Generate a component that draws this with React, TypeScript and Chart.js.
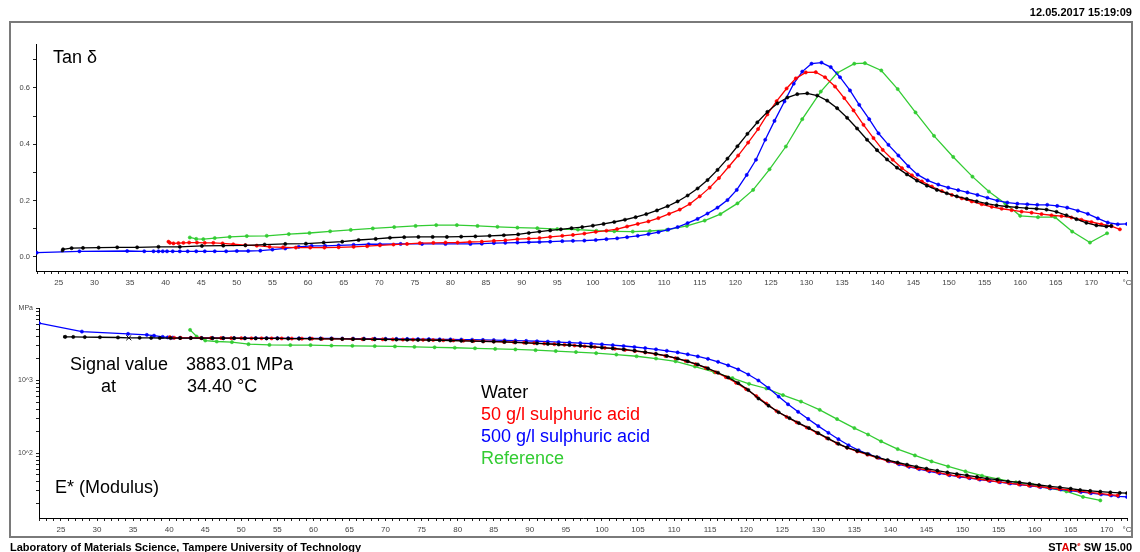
import React, { useEffect, useRef } from 'react';
import { Chart, registerables } from 'chart.js';

Chart.register(...registerables);

const FONT = "'Liberation Sans', Arial, Helvetica, sans-serif";

// ---------- Tan delta (top panel) ----------
const tanWaterT = [25.5, 25.6, 26.8, 28.4, 30.6, 33.2, 36.0, 39.0, 42.0, 45.1, 48.1, 51.2, 53.9, 56.8, 59.7, 62.2, 64.8, 67.1, 69.5, 71.5, 73.5, 75.5, 77.5, 79.5, 81.5, 83.5, 85.5, 87.5, 89.5, 91.0, 92.5, 94.0, 95.5, 97.0, 98.5, 100.0, 101.5, 103.0, 104.5, 106.0, 107.5, 109.0, 110.5, 111.9, 113.3, 114.7, 116.1, 117.5, 118.9, 120.3, 121.7, 123.1, 124.5, 125.9, 127.3, 128.7, 130.1, 131.5, 132.9, 134.3, 135.7, 137.1, 138.5, 139.9, 141.3, 142.7, 144.1, 145.5, 146.9, 148.3, 149.7, 151.1, 152.5, 153.9, 155.3, 156.7, 158.1, 159.5, 160.9, 162.3, 163.7, 165.1, 166.5, 167.9, 169.3, 170.7, 172.1, 172.8];
const tanWaterV = [0.022, 0.027, 0.031, 0.032, 0.033, 0.034, 0.034, 0.036, 0.036, 0.039, 0.040, 0.041, 0.044, 0.046, 0.047, 0.051, 0.054, 0.060, 0.064, 0.068, 0.070, 0.071, 0.071, 0.071, 0.072, 0.073, 0.075, 0.077, 0.080, 0.085, 0.090, 0.094, 0.098, 0.102, 0.106, 0.111, 0.117, 0.124, 0.132, 0.141, 0.152, 0.165, 0.180, 0.197, 0.218, 0.243, 0.273, 0.309, 0.349, 0.393, 0.437, 0.478, 0.515, 0.545, 0.566, 0.578, 0.581, 0.573, 0.555, 0.528, 0.494, 0.456, 0.416, 0.379, 0.346, 0.317, 0.293, 0.271, 0.253, 0.238, 0.226, 0.215, 0.206, 0.197, 0.189, 0.183, 0.179, 0.176, 0.173, 0.171, 0.168, 0.160, 0.148, 0.134, 0.121, 0.112, 0.108, 0.110];

const tanAcid50T = [40.4, 40.6, 41.1, 41.8, 42.5, 43.3, 44.4, 45.5, 46.7, 48.0, 49.5, 51.2, 52.8, 54.6, 56.5, 58.3, 60.3, 62.3, 64.3, 66.4, 68.3, 70.1, 72.0, 73.9, 75.7, 77.6, 79.3, 81.0, 82.7, 84.4, 86.1, 87.7, 89.4, 91.0, 92.5, 94.0, 95.7, 97.2, 98.8, 100.4, 101.9, 103.4, 104.8, 106.3, 107.8, 109.2, 110.7, 112.2, 113.6, 115.0, 116.4, 117.7, 119.1, 120.4, 121.8, 123.2, 124.5, 125.8, 127.2, 128.5, 129.9, 131.3, 132.6, 134.0, 135.3, 136.6, 138.0, 139.4, 140.7, 142.1, 143.4, 144.8, 146.2, 147.6, 149.0, 150.4, 151.8, 153.2, 154.6, 156.0, 157.4, 158.8, 160.2, 161.6, 163.0, 164.4, 165.8, 167.2, 168.6, 170.0, 171.4, 172.8, 174.0];
const tanAcid50V = [0.054, 0.050, 0.048, 0.049, 0.050, 0.051, 0.051, 0.050, 0.050, 0.048, 0.045, 0.042, 0.040, 0.036, 0.034, 0.033, 0.033, 0.033, 0.034, 0.036, 0.038, 0.041, 0.044, 0.046, 0.049, 0.050, 0.051, 0.051, 0.053, 0.054, 0.057, 0.059, 0.063, 0.065, 0.067, 0.071, 0.075, 0.078, 0.083, 0.089, 0.093, 0.099, 0.108, 0.117, 0.126, 0.138, 0.153, 0.168, 0.188, 0.215, 0.246, 0.280, 0.321, 0.360, 0.406, 0.454, 0.506, 0.553, 0.598, 0.634, 0.655, 0.656, 0.638, 0.605, 0.564, 0.520, 0.469, 0.422, 0.380, 0.345, 0.315, 0.290, 0.268, 0.250, 0.234, 0.220, 0.208, 0.197, 0.187, 0.178, 0.171, 0.166, 0.161, 0.157, 0.152, 0.148, 0.145, 0.140, 0.132, 0.124, 0.116, 0.109, 0.098];

const tanAcid500T = [21.9, 27.9, 34.6, 37.0, 38.3, 39.0, 39.6, 40.2, 41.0, 42.0, 43.1, 44.3, 45.5, 46.9, 48.5, 50.0, 51.6, 53.3, 55.0, 56.8, 58.7, 60.5, 62.4, 64.3, 66.4, 68.5, 70.1, 73.0, 76.0, 79.3, 82.8, 84.4, 86.1, 87.7, 89.4, 91.0, 92.5, 94.0, 95.7, 97.2, 98.8, 100.4, 101.9, 103.4, 104.8, 106.3, 107.8, 109.2, 110.6, 111.9, 113.3, 114.7, 116.1, 117.5, 118.9, 120.2, 121.6, 122.9, 124.2, 125.5, 126.9, 128.2, 129.4, 130.7, 132.1, 133.4, 134.7, 136.1, 137.4, 138.8, 140.1, 141.5, 142.9, 144.3, 145.6, 147.0, 148.5, 149.9, 151.3, 152.6, 154.0, 155.4, 156.8, 158.2, 159.6, 161.0, 162.4, 163.8, 165.2, 166.6, 168.1, 169.5, 170.9, 172.3, 173.7, 175.0];
const tanAcid500V = [0.015, 0.020, 0.021, 0.020, 0.020, 0.020, 0.020, 0.020, 0.020, 0.020, 0.020, 0.020, 0.020, 0.020, 0.020, 0.021, 0.021, 0.022, 0.026, 0.030, 0.036, 0.039, 0.039, 0.041, 0.043, 0.045, 0.045, 0.046, 0.046, 0.046, 0.046, 0.047, 0.049, 0.050, 0.051, 0.052, 0.053, 0.054, 0.056, 0.057, 0.058, 0.060, 0.063, 0.066, 0.070, 0.075, 0.081, 0.088, 0.097, 0.106, 0.120, 0.135, 0.154, 0.175, 0.202, 0.238, 0.291, 0.345, 0.416, 0.483, 0.552, 0.615, 0.658, 0.686, 0.690, 0.674, 0.638, 0.591, 0.540, 0.489, 0.439, 0.398, 0.360, 0.322, 0.292, 0.272, 0.257, 0.246, 0.237, 0.229, 0.220, 0.210, 0.200, 0.193, 0.189, 0.187, 0.185, 0.185, 0.181, 0.175, 0.164, 0.153, 0.137, 0.122, 0.116, 0.117];

const tanRefT = [43.4, 44.3, 45.3, 46.9, 49.0, 51.4, 54.2, 57.3, 60.2, 63.1, 66.0, 69.1, 72.1, 75.1, 78.0, 80.9, 83.8, 86.6, 89.4, 92.2, 95.0, 97.9, 100.5, 103.0, 105.6, 108.0, 110.4, 113.2, 115.7, 117.9, 120.3, 122.5, 124.8, 127.1, 129.4, 132.0, 134.3, 136.7, 138.2, 140.5, 142.8, 145.3, 147.9, 150.6, 153.3, 155.6, 157.9, 160.0, 162.5, 164.9, 167.3, 169.8, 172.2];
const tanRefV = [0.069, 0.064, 0.063, 0.067, 0.071, 0.074, 0.075, 0.081, 0.085, 0.091, 0.096, 0.101, 0.106, 0.110, 0.113, 0.113, 0.110, 0.107, 0.104, 0.102, 0.099, 0.097, 0.093, 0.091, 0.090, 0.092, 0.096, 0.110, 0.129, 0.152, 0.190, 0.238, 0.311, 0.392, 0.489, 0.587, 0.653, 0.686, 0.688, 0.662, 0.596, 0.513, 0.430, 0.355, 0.285, 0.232, 0.190, 0.146, 0.141, 0.141, 0.090, 0.051, 0.084];

// ---------- E* modulus, MPa (bottom panel) ----------
const modWaterT = [25.5, 25.6, 26.7, 28.3, 30.4, 32.9, 34.4, 35.9, 37.5, 38.7, 40.2, 41.5, 43.0, 44.5, 46.0, 47.5, 49.0, 50.5, 52.0, 53.5, 55.0, 56.5, 58.0, 59.5, 61.0, 62.5, 64.0, 65.5, 67.0, 68.5, 70.0, 71.5, 73.0, 74.5, 76.0, 77.5, 79.0, 80.5, 82.0, 83.5, 85.0, 86.5, 88.0, 89.5, 91.0, 92.5, 94.0, 95.5, 97.0, 98.5, 100.0, 101.5, 103.0, 104.5, 106.0, 107.5, 109.0, 110.5, 111.9, 113.3, 114.7, 116.1, 117.5, 118.9, 120.3, 121.7, 123.1, 124.5, 126.0, 127.3, 128.7, 130.0, 131.4, 132.8, 134.0, 135.4, 136.8, 138.1, 139.6, 141.0, 142.3, 143.6, 145.0, 146.5, 147.9, 149.2, 150.6, 152.0, 153.4, 154.8, 156.3, 157.9, 159.3, 160.6, 162.1, 163.5, 165.0, 166.3, 167.7, 169.1, 170.5, 171.8, 172.8];
const modWaterV = [4000, 4000, 3990, 3970, 3950, 3920, 3883, 3880, 3870, 3860, 3850, 3850, 3850, 3840, 3840, 3830, 3830, 3820, 3810, 3810, 3800, 3790, 3780, 3770, 3760, 3750, 3740, 3730, 3720, 3700, 3690, 3670, 3650, 3630, 3610, 3590, 3560, 3530, 3500, 3470, 3440, 3400, 3360, 3310, 3260, 3200, 3140, 3080, 3010, 2930, 2850, 2770, 2680, 2580, 2460, 2330, 2180, 2010, 1840, 1660, 1470, 1280, 1100, 920, 740, 565, 450, 365, 303, 259, 221, 188, 158, 134, 119, 107, 97, 88, 80, 74, 69, 64.7, 60.8, 57, 54, 51.4, 49.3, 46.8, 44.3, 42.9, 40.6, 39.4, 37.8, 36.2, 34.7, 33.6, 32.2, 30.9, 30.0, 29.3, 28.7, 28.2, 27.9];

const modAcid50T = [40.1, 40.7, 41.6, 43.0, 44.4, 45.8, 47.2, 48.6, 50.0, 51.4, 52.8, 54.2, 55.6, 57.0, 58.4, 59.8, 61.2, 62.6, 64.0, 65.4, 66.8, 68.2, 69.6, 71.0, 72.4, 73.8, 75.2, 76.6, 78.0, 79.4, 80.8, 82.2, 83.6, 85.0, 86.4, 87.8, 89.2, 90.6, 92.0, 93.4, 94.8, 96.2, 97.6, 99.0, 100.4, 101.8, 103.2, 104.6, 106.0, 107.4, 108.8, 110.2, 111.6, 113.0, 114.4, 115.8, 117.2, 118.6, 120.0, 121.4, 122.8, 124.2, 125.6, 127.0, 128.4, 129.8, 131.2, 132.6, 134.0, 135.4, 136.8, 138.2, 139.6, 141.0, 142.4, 143.8, 145.2, 146.6, 148.0, 149.4, 150.8, 152.2, 153.6, 155.0, 156.4, 157.8, 159.2, 160.6, 162.0, 163.4, 164.8, 166.2, 167.6, 169.0, 170.4, 171.5];
const modAcid50V = [3960, 3880, 3870, 3870, 3860, 3850, 3850, 3840, 3830, 3820, 3820, 3810, 3800, 3790, 3780, 3770, 3760, 3750, 3740, 3730, 3720, 3710, 3700, 3690, 3670, 3660, 3640, 3620, 3590, 3570, 3540, 3510, 3480, 3450, 3410, 3370, 3330, 3280, 3230, 3170, 3110, 3040, 2970, 2900, 2820, 2740, 2650, 2550, 2440, 2320, 2180, 2030, 1860, 1680, 1490, 1300, 1110, 930, 760, 610, 480, 380, 315, 265, 225, 190, 160, 136, 118, 105, 95, 86, 78, 72, 66, 61.5, 57.5, 54, 50.5, 48, 45.8, 43.8, 41.8, 40.0, 38.5, 37.0, 35.6, 34.4, 33.2, 32.0, 30.9, 29.8, 28.7, 27.7, 26.7, 26.0];

const modAcid500T = [21.95, 27.9, 34.3, 36.9, 37.9, 39.1, 39.8, 40.5, 41.5, 43.0, 44.5, 46.0, 47.5, 49.0, 50.5, 52.0, 53.5, 55.0, 56.5, 58.0, 59.5, 61.0, 62.5, 64.0, 65.5, 67.0, 68.5, 70.0, 71.5, 73.0, 74.5, 76.0, 77.5, 79.0, 80.5, 82.0, 83.5, 85.0, 86.5, 88.0, 89.5, 91.0, 92.5, 94.0, 95.5, 97.0, 98.5, 100.0, 101.5, 103.0, 104.5, 106.0, 107.5, 109.0, 110.5, 111.9, 113.3, 114.7, 116.1, 117.5, 118.9, 120.3, 121.7, 123.1, 124.5, 125.8, 127.2, 128.6, 130.0, 131.4, 132.8, 134.2, 135.6, 137.0, 138.4, 139.8, 141.2, 142.6, 144.0, 145.4, 146.8, 148.2, 149.6, 151.0, 152.4, 153.8, 155.2, 156.6, 158.0, 159.4, 160.8, 162.2, 163.6, 165.0, 166.4, 167.8, 169.2, 170.6, 171.6, 172.8];
const modAcid500V = [6170, 4730, 4400, 4260, 4150, 4000, 3930, 3900, 3880, 3870, 3860, 3860, 3850, 3850, 3840, 3840, 3830, 3830, 3820, 3820, 3810, 3800, 3800, 3790, 3780, 3780, 3770, 3760, 3750, 3740, 3730, 3720, 3700, 3690, 3670, 3650, 3630, 3610, 3580, 3550, 3520, 3480, 3440, 3390, 3340, 3280, 3220, 3150, 3070, 2990, 2900, 2800, 2690, 2570, 2440, 2300, 2150, 1990, 1810, 1620, 1420, 1210, 1000, 790, 600, 470, 370, 295, 235, 190, 155, 128, 109, 96, 86, 77, 70, 64.5, 60, 56, 52.5, 49.5, 47, 45, 43, 41.2, 39.6, 38.0, 36.6, 35.2, 33.9, 32.6, 31.4, 30.2, 29.0, 27.9, 26.9, 26.0, 25.3, 24.8];

const modRefT = [42.9, 43.8, 45.0, 46.6, 48.7, 51.0, 53.9, 56.8, 59.6, 62.5, 65.4, 68.5, 71.3, 74.0, 76.8, 79.6, 82.4, 85.2, 88.0, 90.8, 93.6, 96.4, 99.2, 102.0, 104.8, 107.5, 110.2, 112.9, 115.6, 118.1, 120.4, 122.8, 125.1, 127.6, 130.2, 132.6, 135.0, 136.9, 138.7, 141.0, 143.4, 145.7, 148.0, 150.4, 152.7, 155.0, 157.4, 159.7, 162.1, 164.4, 166.7, 169.1];
const modRefV = [4990, 4040, 3560, 3450, 3380, 3170, 3100, 3080, 3080, 3030, 3010, 2980, 2950, 2910, 2870, 2830, 2780, 2730, 2680, 2620, 2550, 2470, 2380, 2280, 2160, 2010, 1840, 1560, 1300, 1080, 900, 776, 630, 513, 394, 294, 221, 180, 145, 113.5, 92.7, 76.6, 65.3, 55.8, 48.6, 43.8, 39.4, 36.3, 32.5, 29.5, 24.8, 22.2];

// ---------- axis ranges / labels ----------
const tanRange = { xMin: 21.8, xMax: 175, yMin: -0.05, yMax: 0.756 };
const tanYTicks = [0, 0.1, 0.2, 0.3, 0.4, 0.5, 0.6, 0.7];
const modRange = { xMin: 21.95, xMax: 172.8, yMin: 12.7, yMax: 10000 };
const modDecadeLabels: Record<number, string> = { 100: '10^2', 1000: '10^3', 10000: 'MPa' };
const seriesNames = ['Water', '50 g/l sulphuric acid', '500 g/l sulphuric acid', 'Reference'];
const seriesColors = ['#000000', '#ff0000', '#0000ff', '#33cc33'];

const signalValue = '3883.01 MPa';
const signalAt = '34.40 °C';
const SIGNAL_INDEX = 6;

function pts(xs: number[], ys: number[]) {
  return xs.map((x, i) => ({ x, y: ys[i] }));
}

function ds(i: number, xs: number[], ys: number[], extra: any = {}) {
  return {
    label: seriesNames[i],
    data: pts(xs, ys),
    borderColor: seriesColors[i],
    backgroundColor: seriesColors[i],
    pointBackgroundColor: seriesColors[i],
    pointBorderColor: seriesColors[i],
    borderWidth: 1.3,
    pointRadius: 1.6,
    pointBorderWidth: 0.6,
    tension: 0,
    fill: false,
    ...extra,
  };
}

function xTicks(s: any) {
  const t: any[] = [];
  for (let v = Math.ceil(s.min); v <= Math.floor(s.max + 1e-9); v++) t.push({ value: v });
  if (t[t.length - 1].value < s.max - 1e-6) t.push({ value: s.max });
  s.ticks = t;
}

function xAxis(min: number, max: number, height: number) {
  return {
    type: 'linear',
    min,
    max,
    afterFit: (s: any) => { s.height = height; },
    afterBuildTicks: xTicks,
    ticks: {
      autoSkip: false,
      maxRotation: 0,
      minRotation: 0,
      padding: 4,
      color: '#444',
      font: { family: FONT, size: 8 },
      callback: function (this: any, v: number) {
        if (Math.abs(v - this.max) < 1e-6) return '°C';
        return Math.abs(v % 5) < 1e-6 ? String(Math.round(v)) : '';
      },
    },
    grid: { drawOnChartArea: false, drawTicks: true, tickLength: 3, color: '#222', lineWidth: 1 },
    border: { display: true, color: '#000', width: 1 },
  };
}

function baseOptions(padding: any, scales: any) {
  return {
    animation: false,
    responsive: false,
    maintainAspectRatio: false,
    devicePixelRatio: 1,
    events: [],
    layout: { padding },
    plugins: { legend: { display: false }, tooltip: { enabled: false }, title: { display: false } },
    scales,
  };
}

function topConfig(): any {
  return {
    type: 'line',
    data: {
      datasets: [
        ds(0, tanWaterT, tanWaterV, { pointStyle: (c: any) => (c.dataIndex === 0 ? 'rect' : 'circle') }),
        ds(1, tanAcid50T, tanAcid50V),
        ds(2, tanAcid500T, tanAcid500V),
        ds(3, tanRefT, tanRefV),
      ],
    },
    options: baseOptions({ left: 0, right: 13, top: 44, bottom: 0 }, {
      x: xAxis(tanRange.xMin, tanRange.xMax, 19),
      y: {
        type: 'linear',
        min: tanRange.yMin,
        max: tanRange.yMax,
        afterFit: (s: any) => { s.width = 36; },
        afterBuildTicks: (s: any) => { s.ticks = tanYTicks.map((value) => ({ value })); },
        ticks: {
          padding: 3,
          color: '#444',
          font: { family: FONT, size: 7.5 },
          callback: (v: number) => (Math.round(v * 10) % 2 === 0 ? v.toFixed(1) : ''),
        },
        grid: { drawOnChartArea: false, drawTicks: true, tickLength: 3, color: '#222', lineWidth: 1 },
        border: { display: true, color: '#000', width: 1 },
      },
    }),
  };
}

function bottomConfig(): any {
  const logTicks: number[] = [];
  for (let e = 1; e <= 3; e++) {
    for (let m = 1; m <= 9; m++) {
      const v = m * Math.pow(10, e);
      if (v >= modRange.yMin && v <= modRange.yMax) logTicks.push(v);
    }
  }
  logTicks.push(modRange.yMax);
  return {
    type: 'line',
    data: {
      datasets: [
        ds(0, modWaterT, modWaterV, {
          pointStyle: (c: any) => (c.dataIndex === 0 ? 'rect' : c.dataIndex === SIGNAL_INDEX ? 'crossRot' : 'circle'),
          pointRadius: (c: any) => (c.dataIndex === SIGNAL_INDEX ? 3.5 : 1.6),
          pointBorderWidth: (c: any) => (c.dataIndex === SIGNAL_INDEX ? 1 : 0.6),
        }),
        ds(1, modAcid50T, modAcid50V),
        ds(2, modAcid500T, modAcid500V),
        ds(3, modRefT, modRefV),
      ],
    },
    options: baseOptions({ left: 0, right: 13, top: 18, bottom: 5 }, {
      x: xAxis(modRange.xMin, modRange.xMax, 29),
      y: {
        type: 'logarithmic',
        min: modRange.yMin,
        max: modRange.yMax,
        afterFit: (s: any) => { s.width = 39; },
        afterBuildTicks: (s: any) => { s.ticks = logTicks.map((value) => ({ value })); },
        ticks: {
          autoSkip: false,
          padding: 3,
          color: '#444',
          font: { family: FONT, size: 7 },
          callback: (v: number) => {
            const k = Object.keys(modDecadeLabels).find((d) => Math.abs(Number(d) - v) < 1e-6);
            return k ? modDecadeLabels[Number(k)] : '';
          },
        },
        grid: { drawOnChartArea: false, drawTicks: true, tickLength: 3, color: '#222', lineWidth: 1 },
        border: { display: true, color: '#000', width: 1 },
      },
    }),
  };
}

function Txt(props: { x: number; y: number; size: number; color?: string; bold?: boolean; right?: boolean; children: any }) {
  const { x, y, size, color = '#000', bold = false, right = false, children } = props;
  const style: any = {
    position: 'absolute',
    top: y,
    fontSize: size,
    lineHeight: 1,
    transform: 'translateY(-50%)',
    whiteSpace: 'nowrap',
    color,
    fontWeight: bold ? 'bold' : 'normal',
    fontFamily: FONT,
  };
  if (right) style.right = 1140 - x;
  else style.left = x;
  return <div style={style}>{children}</div>;
}

export default function App() {
  const topRef = useRef<HTMLCanvasElement>(null);
  const botRef = useRef<HTMLCanvasElement>(null);

  useEffect(() => {
    const c1 = new Chart(topRef.current as HTMLCanvasElement, topConfig());
    const c2 = new Chart(botRef.current as HTMLCanvasElement, bottomConfig());
    return () => {
      c1.destroy();
      c2.destroy();
    };
  }, []);

  return (
    <div style={{ position: 'fixed', left: 0, top: 0, width: 1140, height: 552, background: '#fff', overflow: 'hidden', fontFamily: FONT }}>
      <div style={{ position: 'absolute', left: 9, top: 21, width: 1124, height: 517, border: '2px solid #7a7a7a', boxSizing: 'border-box' }} />
      <canvas ref={topRef} width={1140} height={290} style={{ position: 'absolute', left: 0, top: 0, width: 1140, height: 290 }} />
      <canvas ref={botRef} width={1140} height={262} style={{ position: 'absolute', left: 0, top: 290, width: 1140, height: 262 }} />

      <Txt x={1132} y={12} size={11} bold right>12.05.2017 15:19:09</Txt>
      <Txt x={53} y={57} size={18}>Tan δ</Txt>

      <Txt x={70} y={364} size={18}>Signal value</Txt>
      <Txt x={186} y={364} size={18}>{signalValue}</Txt>
      <Txt x={101} y={386} size={18}>at</Txt>
      <Txt x={187} y={386} size={18}>{signalAt}</Txt>

      <Txt x={481} y={392} size={18} color={seriesColors[0]}>{seriesNames[0]}</Txt>
      <Txt x={481} y={414} size={18} color={seriesColors[1]}>{seriesNames[1]}</Txt>
      <Txt x={481} y={436} size={18} color={seriesColors[2]}>{seriesNames[2]}</Txt>
      <Txt x={481} y={458} size={18} color={seriesColors[3]}>{seriesNames[3]}</Txt>

      <Txt x={55} y={487} size={18}>E* (Modulus)</Txt>

      <Txt x={10} y={547} size={11} bold>Laboratory of Materials Science, Tampere University of Technology</Txt>
      <Txt x={1132} y={547} size={11} bold right>
        <span>ST</span><span style={{ color: '#e00000' }}>A</span><span>R</span>
        <sup style={{ fontSize: 6, color: '#e00000' }}>e</sup>
        <span> SW 15.00</span>
      </Txt>
    </div>
  );
}
